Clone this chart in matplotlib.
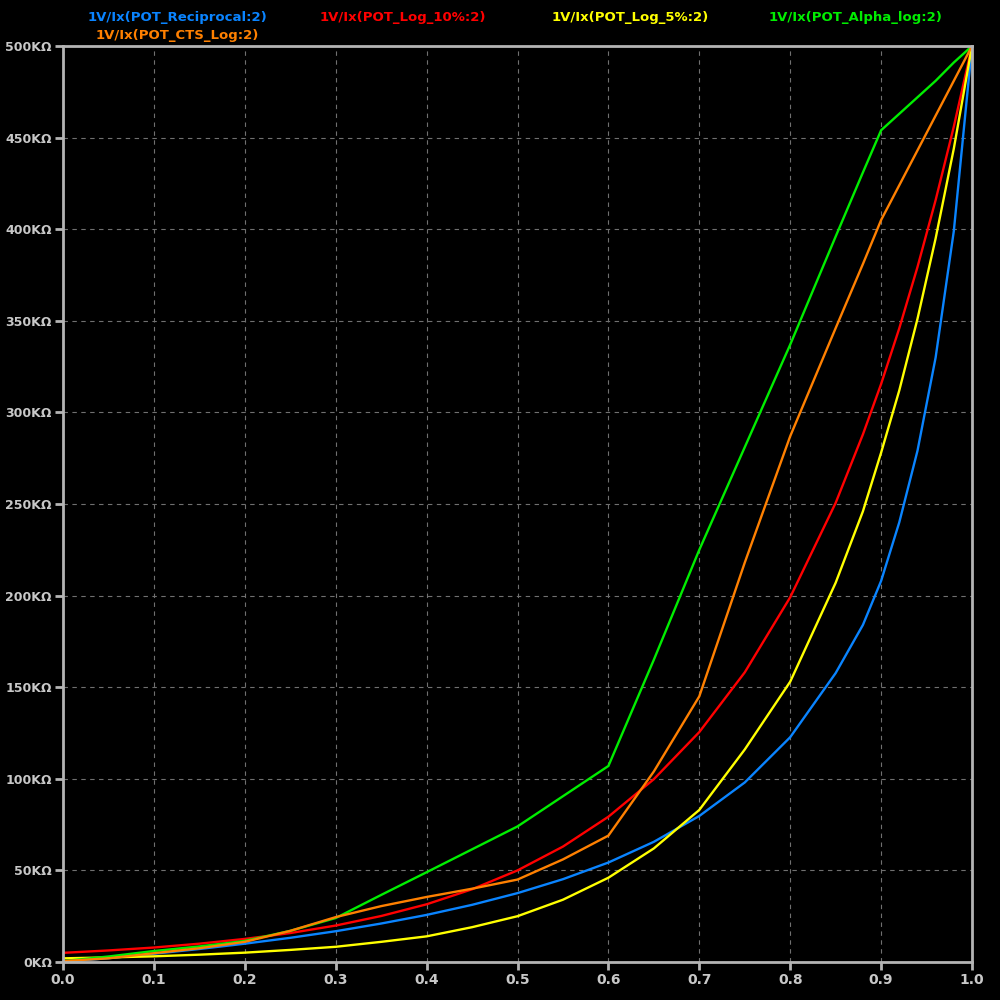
import numpy as np
import matplotlib
matplotlib.use('Agg')
import matplotlib.pyplot as plt

# wiper position (shared sample points)
pos = [0.0, 0.05, 0.1, 0.15, 0.2, 0.25, 0.3, 0.35, 0.4, 0.45, 0.5, 0.55,
       0.6, 0.65, 0.7, 0.75, 0.8, 0.85, 0.88, 0.9, 0.92, 0.94, 0.96, 0.98, 1.0]

# resistance readings in kOhm
reciprocal = [0.0, 2.1, 4.5, 7.1, 10.0, 13.2, 16.8, 21.0, 25.7, 31.2, 37.6, 45.2,
              54.3, 65.6, 79.7, 98.0, 122.7, 157.7, 184.0, 208.0, 240.0, 279.0, 330.0, 399.0, 500.0]
log10 = [5.0, 6.3, 7.9, 10.0, 12.6, 15.8, 19.9, 25.1, 31.5, 39.7, 50.0, 63.0,
         79.3, 99.8, 125.5, 158.1, 199.1, 250.6, 288.0, 315.5, 345.9, 379.3, 415.9, 456.0, 500.0]
log5 = [2.0, 2.5, 3.1, 4.0, 5.1, 6.6, 8.3, 11.0, 14.0, 19.0, 25.0, 34.0,
        46.0, 62.0, 83.0, 116.0, 153.0, 207.0, 246.0, 278.0, 312.0, 351.0, 395.0, 444.0, 500.0]
alpha_log = [0.5, 3.0, 6.0, 8.5, 11.5, 17.0, 24.0, 36.6, 49.0, 61.5, 74.0, 90.5,
             107.0, 165.0, 225.0, 281.0, 337.0, 396.0, 431.0, 454.0, 463.0, 472.0, 481.0, 491.0, 500.0]
cts_log = [0.5, 2.0, 4.8, 7.5, 11.0, 17.0, 24.5, 30.5, 35.5, 40.0, 45.0, 56.0,
           69.0, 104.0, 145.0, 218.0, 287.0, 346.0, 381.0, 405.0, 424.0, 443.0, 462.0, 481.0, 500.0]

series = [
    ('1V/Ix(POT_Reciprocal:2)', reciprocal, '#0a84ff'),
    ('1V/Ix(POT_Log_10%:2)', log10, '#ff0000'),
    ('1V/Ix(POT_Log_5%:2)', log5, '#ffff00'),
    ('1V/Ix(POT_Alpha_log:2)', alpha_log, '#00ee00'),
    ('1V/Ix(POT_CTS_Log:2)', cts_log, '#ff8000'),
]
# where the trace names sit above the plot (figure fraction)
label_pos = [(0.177, 0.982), (0.403, 0.982), (0.630, 0.982), (0.856, 0.982), (0.177, 0.964)]

axisGray = '#b4b4b4'
gridGray = '#707070'

fig = plt.figure(figsize=(10, 10), dpi=100, facecolor='black')
ax = fig.add_axes([0.063, 0.038, 0.909, 0.916], facecolor='black')

for (name, vals, col) in series:
    ax.plot(pos, vals, color=col, linewidth=1.7)

for (name, vals, col), (lx, ly) in zip(series, label_pos):
    fig.text(lx, ly, name, color=col, fontsize=9.5, fontweight='bold',
             ha='center', va='center')

ax.set_xlim(0, 1)
ax.set_ylim(0, 500)
ax.set_xticks(np.arange(0, 1.01, 0.1))
ax.set_xticklabels(['%.1f' % t for t in np.arange(0, 1.01, 0.1)])
ax.set_yticks(np.arange(0, 501, 50))
ax.set_yticklabels(['%dKΩ' % t for t in np.arange(0, 501, 50)])

ax.grid(True, color=gridGray, linestyle=(0, (4, 4)), linewidth=0.8)
for s in ax.spines.values():
    s.set_color(axisGray)
    s.set_linewidth(2)
ax.tick_params(colors=axisGray, length=6, width=2, pad=2)
ax.tick_params(axis='x', labelsize=10)
ax.tick_params(axis='y', labelsize=9)
for lbl in ax.get_xticklabels() + ax.get_yticklabels():
    lbl.set_fontweight('bold')
    lbl.set_color('#c8c8c8')

fig.savefig('out.png', dpi=100, facecolor='black')
